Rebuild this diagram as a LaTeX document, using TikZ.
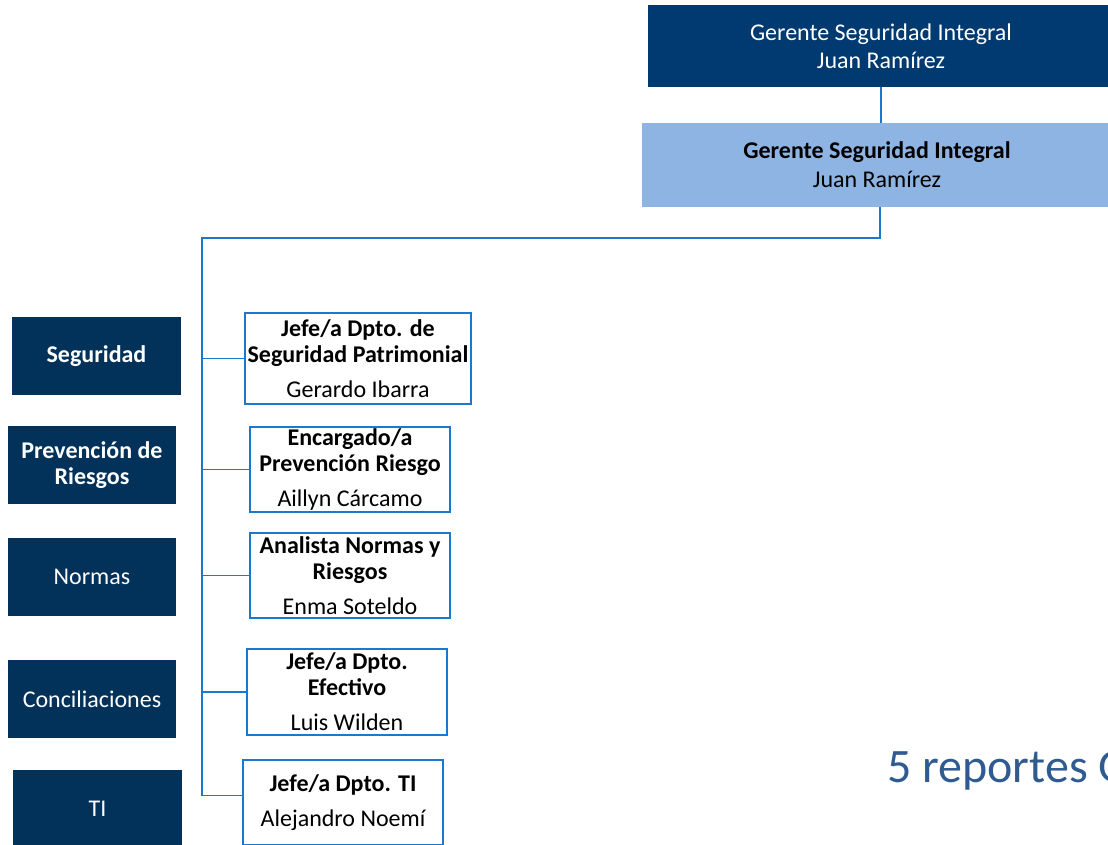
\documentclass[tikz,border=0pt]{standalone}
\usepackage{fontspec}
\setmainfont{Carlito}
\usetikzlibrary{positioning,calc}

\definecolor{navytop}{RGB}{0,58,112}
\definecolor{navyarea}{RGB}{2,50,90}
\definecolor{lightboss}{RGB}{142,180,227}
\definecolor{linkblue}{RGB}{28,120,205}
\definecolor{notecolor}{RGB}{47,91,145}

\begin{document}
\begin{tikzpicture}[x=1pt, y=-1pt,
      boss/.style={rectangle, fill=navytop, text=white, align=center, minimum width=466pt, minimum height=82pt, inner sep=0pt, font=\fontsize{24}{28}\selectfont},
      bosscopy/.style={rectangle, fill=lightboss, text=black, align=center, minimum width=470pt, minimum height=84pt, inner sep=0pt, font=\fontsize{24}{29}\selectfont},
      area/.style={rectangle, fill=navyarea, text=white, align=center, minimum width=168pt, minimum height=78pt, inner sep=0pt, font=\fontsize{24}{26}\selectfont},
      unit/.style={rectangle, draw=linkblue, line width=1.6pt, fill=white, align=center, minimum width=200pt, minimum height=85pt, inner sep=0pt, font=\fontsize{24}{26}\selectfont},
      link/.style={draw=linkblue, line width=1.6pt},
      ]
      \useasboundingbox (0,0) rectangle (1108,845);
      \clip (0,0) rectangle (1108,845);

      \node[boss] (GSI) at (881,46) {Gerente Seguridad Integral\\Juan Ramírez};
      \node[bosscopy] (GSIb) at (877,165) {\textbf{Gerente Seguridad Integral}\\Juan Ramírez};

      \node[area, minimum width=169pt] (ASEG) at (96.5,356) {\textbf{Seguridad}};
      \node[area] (APRE) at (92,465) {\textbf{Prevención de}\\\textbf{Riesgos}};
      \node[area] (ANOR) at (92,577) {Normas};
      \node[area] (ACON) at (92,699) {Conciliaciones};
      \node[area, minimum width=169pt] (ATI) at (97.5,809) {TI};

      \node[unit, minimum width=226pt, minimum height=91pt] (SP) at (358,358.5) {\textbf{Jefe/a Dpto. de}\\\textbf{Seguridad Patrimonial}\\[9pt]Gerardo Ibarra};
      \node[unit] (PR) at (350,469.5) {\textbf{Encargado/a}\\\textbf{Prevención Riesgo}\\[9pt]Aillyn Cárcamo};
      \node[unit] (NR) at (350,575.5) {\textbf{Analista Normas y}\\\textbf{Riesgos}\\[9pt]Enma Soteldo};
      \node[unit, minimum height=86pt] (EF) at (347,692) {\textbf{Jefe/a Dpto.}\\\textbf{Efectivo}\\[9pt]Luis Wilden};
      \node[unit] (TI) at (343,802.5) {\textbf{Jefe/a Dpto. TI}\\[9pt]Alejandro Noemí};

      \node[anchor=base west, inner sep=0pt, text=notecolor, font=\fontsize{48}{56}\selectfont] (note) at (887,782) {5 reportes G};

      \coordinate (trunk) at (202,238);
      \draw[link] (GSI.south) -- (GSI.south |- GSIb.north);
      \draw[link] ([xshift=3pt]GSIb.south) |- (trunk) |- ([yshift=7pt]TI.west);
      \draw[link] (trunk |- SP.west) -- (SP.west);
      \draw[link] (trunk |- PR.west) -- (PR.west);
      \draw[link] (trunk |- NR.west) -- (NR.west);
      \draw[link] (trunk |- EF.west) -- (EF.west);
    \end{tikzpicture}
\end{document}
